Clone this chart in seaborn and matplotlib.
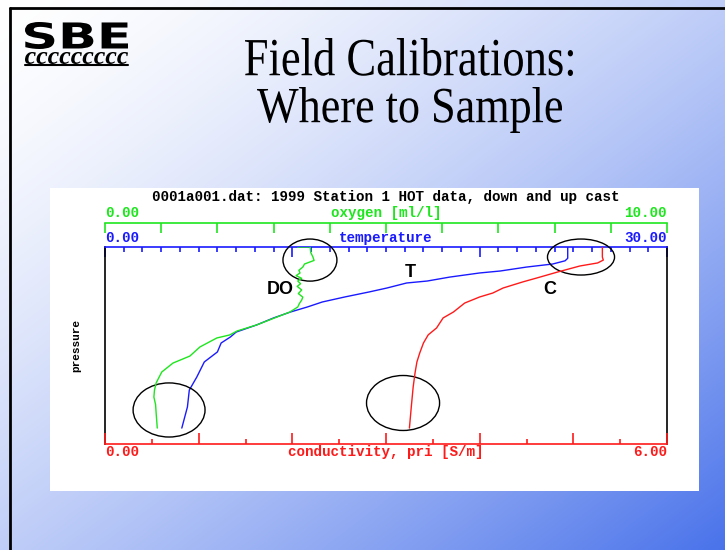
import matplotlib
matplotlib.use('Agg')
import matplotlib.pyplot as plt
import numpy as np
import seaborn as sns
from matplotlib.patches import Ellipse, Rectangle, PathPatch
from matplotlib.textpath import TextPath
from matplotlib.font_manager import FontProperties
from matplotlib.transforms import Affine2D

W, H = 725, 550

# profiles, pressure in db
temp_pressure = [0, 63, 77, 95, 112, 134, 145, 168, 190, 201, 229, 251, 279, 307, 335,
                 363, 396, 435, 475, 502, 536, 586, 642, 726, 799, 893, 1011]
temp_values = [24.7, 24.7, 24.56, 23.9, 22.5, 21.1, 20.0, 18.4, 17.2, 16.1, 15.05, 14.1,
               12.8, 11.6, 10.8, 9.9, 9.0, 8.1, 7.0, 6.7, 6.2, 6.0, 5.3, 4.9, 4.5, 4.4, 4.1]

oxy_pressure = [0, 0, 30, 56, 75, 95, 112, 130, 145, 160, 175, 190, 205, 220, 240, 260,
                280, 296, 315, 335, 363, 391, 435, 469, 491, 508, 558, 609, 648, 698, 759,
                800, 838, 880, 927, 1011]
oxy_values = [3.43, 3.65, 3.66, 3.70, 3.72, 3.55, 3.52, 3.45, 3.47, 3.40, 3.50, 3.43, 3.48,
              3.42, 3.50, 3.44, 3.52, 3.50, 3.46, 3.43, 3.29, 3.06, 2.70, 2.35, 2.22, 1.99,
              1.69, 1.51, 1.21, 1.01, 0.91, 0.88, 0.87, 0.90, 0.91, 0.93]

cond_pressure = [0, 56, 73, 89, 106, 140, 173, 195, 229, 257, 279, 313, 363, 396, 452,
                 491, 536, 592, 642, 703, 782, 893, 1011]
cond_values = [5.31, 5.31, 5.32, 5.26, 5.07, 4.83, 4.61, 4.46, 4.25, 4.14, 4.0, 3.84,
               3.72, 3.61, 3.54, 3.45, 3.40, 3.36, 3.33, 3.31, 3.29, 3.27, 3.25]

pressure_ticks = list(range(0, 1101, 100))
pressure_labels = ['0'] + [''] * 10 + ['1100']

GREEN = '#1ee61e'
BLUE = '#1a1aff'
RED = '#ff1a1a'
MONO = 'Liberation Mono'
PT = 0.72  # points per pixel at dpi 100

sns.set_style('white')
plt.rcParams['font.family'] = ['DejaVu Sans']


def px(x, y):
    return x / W, 1 - y / H


def boxed_text(axb, s, box, prop, color):
    # fit a text outline into a pixel box (slide fonts are stretched)
    x0, y0, x1, y1 = box
    path = TextPath((0, 0), s, size=1, prop=prop)
    e = path.get_extents()
    tr = Affine2D().translate(-e.x0, -e.y0).scale((x1 - x0) / e.width,
                                                  (y1 - y0) / e.height).translate(x0, H - y1)
    axb.add_patch(PathPatch(tr.transform_path(path), facecolor=color, edgecolor='none'))


fig = plt.figure(figsize=(W / 100, H / 100), dpi=100)

# slide background
axb = fig.add_axes([0, 0, 1, 1])
gx, gy = np.meshgrid(np.linspace(0, 1, 300), np.linspace(0, 1, 230))
f = ((gx + gy) / 2) ** 1.5
grad = np.ones((230, 300, 3)) * (1 - f[..., None]) + np.array([0.29, 0.45, 0.92]) * f[..., None]
axb.imshow(grad, extent=(0, W, 0, H), origin='upper', aspect='auto')
axb.add_patch(Rectangle((50, H - 491), 649, 303, facecolor='white', edgecolor='none'))
axb.plot([10, W], [H - 8, H - 8], color='black', lw=2)
axb.plot([10, 10], [H - 8, 0], color='black', lw=2)
axb.set_xlim(0, W)
axb.set_ylim(0, H)
axb.set_axis_off()

boxed_text(axb, 'SBE', (25, 22, 128, 49),
           FontProperties(family='DejaVu Sans', weight='bold'), 'black')
boxed_text(axb, 'ccccccccc', (25, 52, 128, 64),
           FontProperties(family='Liberation Serif', weight='bold', style='italic'), 'black')
axb.plot([25, 128], [H - 65, H - 65], color='black', lw=1.5)
serif = FontProperties(family='Liberation Serif')
boxed_text(axb, 'Field Calibrations:', (245, 38, 573, 76), serif, 'black')
boxed_text(axb, 'Where to Sample', (257, 87, 562, 133), serif, 'black')

# chart
ax = fig.add_axes([105 / W, 1 - 444 / H, 562 / W, 197 / H])
ax.set_facecolor('none')
ax_o = ax.twiny()
ax_c = ax.twiny()

sns.lineplot(x=temp_values, y=temp_pressure, sort=False, estimator=None, ax=ax,
             color=BLUE, lw=1.0)
sns.lineplot(x=oxy_values, y=oxy_pressure, sort=False, estimator=None, ax=ax_o,
             color=GREEN, lw=1.0)
sns.lineplot(x=cond_values, y=cond_pressure, sort=False, estimator=None, ax=ax_c,
             color=RED, lw=1.0)

ax.set_xlim(0, 30)
ax_o.set_xlim(0, 10)
ax_c.set_xlim(0, 6)
ax.set_ylim(1100, 0)

for a in (ax, ax_o, ax_c):
    for s in a.spines.values():
        s.set_visible(False)
    a.set_xlabel('')
    a.set_ylabel('')

ax.spines['left'].set_visible(True)
ax.spines['right'].set_visible(True)
ax.spines['top'].set_visible(True)
ax.spines['left'].set_color('black')
ax.spines['right'].set_color('black')
ax.spines['top'].set_color(BLUE)
for s in ('left', 'right', 'top'):
    ax.spines[s].set_linewidth(1.2)

ax.xaxis.set_ticks_position('top')
ax.set_xticks([0, 10, 20, 30])
ax.set_xticks(np.arange(0, 31, 1), minor=True)
ax.tick_params(axis='x', which='major', direction='in', length=10 * PT, color=BLUE,
               labeltop=False, labelbottom=False, width=1.2)
ax.tick_params(axis='x', which='minor', direction='in', length=4.5 * PT, color=BLUE,
               width=1.2)
ax.set_yticks(pressure_ticks)
ax.set_yticklabels(pressure_labels, fontfamily=MONO, fontweight='bold', fontsize=10)
ax.tick_params(axis='y', direction='in', length=18 * PT, color='#444444', width=1.2,
               left=True, right=True, pad=2)

ax_o.spines['top'].set_visible(True)
ax_o.spines['top'].set_position(('outward', 24 * PT))
ax_o.spines['top'].set_color(GREEN)
ax_o.spines['top'].set_linewidth(1.2)
ax_o.set_xticks(np.arange(0, 11, 1))
ax_o.tick_params(axis='x', direction='in', length=10 * PT, color=GREEN, width=1.2,
                 labeltop=False, top=True, bottom=False)
ax_o.set_yticks([])

ax_c.xaxis.set_ticks_position('bottom')
ax_c.spines['bottom'].set_visible(True)
ax_c.spines['bottom'].set_color(RED)
ax_c.spines['bottom'].set_linewidth(1.2)
ax_c.set_xticks(np.arange(0, 7, 1))
ax_c.set_xticks(np.arange(0, 6.01, 0.5), minor=True)
ax_c.tick_params(axis='x', which='major', direction='in', length=11 * PT, color=RED,
                 width=1.2, labelbottom=False, labeltop=False, top=False, bottom=True)
ax_c.tick_params(axis='x', which='minor', direction='in', length=5 * PT, color=RED,
                 width=1.2, top=False, bottom=True)
ax_c.set_yticks([])

# circles drawn on the slide, centre/size in temperature & pressure units
circles = [(10.94, 73, 2.88, 235), (3.42, 910, 3.84, 302),
           (25.41, 56, 3.58, 201), (15.91, 871, 3.90, 307)]
for cx, cy, w, h in circles:
    ax.add_patch(Ellipse((cx, cy), w, h, fill=False, edgecolor='black', lw=1.0,
                         clip_on=False, zorder=5))

mono = dict(family=MONO, weight='bold', fontsize=10.3, va='center')
fig.text(*px(386, 197), '0001a001.dat: 1999 Station 1 HOT data, down and up cast',
         ha='center', color='black', **mono)
fig.text(*px(105, 213), '0.00', ha='left', color=GREEN, **mono)
fig.text(*px(386, 213), 'oxygen [ml/l]', ha='center', color=GREEN, **mono)
fig.text(*px(667, 213), '10.00', ha='right', color=GREEN, **mono)
fig.text(*px(105, 238), '0.00', ha='left', color=BLUE, **mono)
fig.text(*px(386, 238), 'temperature', ha='center', color=BLUE, **mono)
fig.text(*px(667, 238), '30.00', ha='right', color=BLUE, **mono)
fig.text(*px(105, 452), '0.00', ha='left', color=RED, **mono)
fig.text(*px(386, 452), 'conductivity, pri [S/m]', ha='center', color=RED, **mono)
fig.text(*px(667, 452), '6.00', ha='right', color=RED, **mono)
fig.text(*px(76, 346), 'pressure', ha='center', va='center', rotation=90,
         family=MONO, weight='bold', fontsize=8, color='black')

lab = dict(family='Liberation Sans', weight='bold', fontsize=13, ha='center',
           va='center', color='black')
fig.text(*px(280, 290), 'DO', **lab)
fig.text(*px(410, 272), 'T', **lab)
fig.text(*px(550, 290), 'C', **lab)

fig.savefig('out.png', dpi=100)
